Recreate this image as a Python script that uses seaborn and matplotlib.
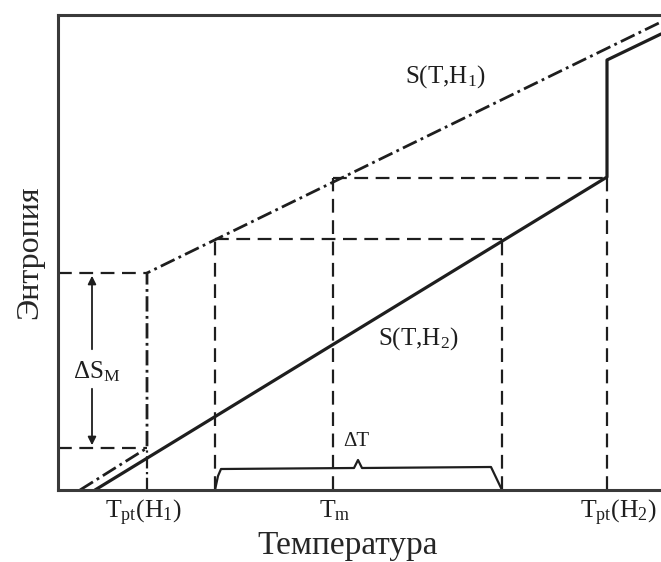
import matplotlib
matplotlib.use("Agg")
import matplotlib.pyplot as plt
import seaborn as sns
import pandas as pd

sns.set_theme(style="white")
plt.rcParams['font.family'] = ['Liberation Serif', 'DejaVu Serif']
plt.rcParams['mathtext.fontset'] = 'custom'
plt.rcParams['mathtext.rm'] = 'Liberation Serif'
plt.rcParams['mathtext.it'] = 'Liberation Serif:italic'

# ---- data (schematic units) ----
s1_T = [22, 89, 89, 603]          # S(T,H1) dash-dot curve
s1_S = [0, 42, 217, 468]
s2_T = [37, 549, 549, 603]        # S(T,H2) solid curve
s2_S = [0, 313, 430, 456]

T_pt1, T_a, T_m, T_b, T_pt2 = 89, 157, 275, 444, 549
S_low, S_high = 42, 217           # entropy levels at T_pt(H1)
S_a, S_m = 251, 312               # isentropic levels

tick_pos = [89, 275, 549]
tick_labels = ["T$_\\mathrm{pt}$(H$_1$)", "T$_\\mathrm{m}$", "T$_\\mathrm{pt}$(H$_2$)"]
tick_label_shift = [-4, 2, 11]

brace_T = [157, 160, 163, 296, 300, 304, 433, 444]
brace_S = [0, 14, 21, 22, 30, 22, 23, 0]

fig = plt.figure(figsize=(6.61, 5.62), dpi=100)
ax = fig.add_axes([58/661, 1-490/562, 1-58/661, (490-15)/562])

ink = '#1e1e1e'
dashdot = (0, (5.5, 1.6, 1.0, 1.6))
dashed = (0, (6.2, 3.4))

df1 = pd.DataFrame({"T": s1_T, "S": s1_S})
df2 = pd.DataFrame({"T": s2_T, "S": s2_S})
sns.lineplot(data=df1, x="T", y="S", sort=False, estimator=None, ax=ax,
             color=ink, lw=2.0, linestyle=dashdot)
sns.lineplot(data=df2, x="T", y="S", sort=False, estimator=None, ax=ax,
             color=ink, lw=2.3)

# vertical dash-dot below T_pt(H1)
ax.plot([T_pt1, T_pt1], [0, S_low], color=ink, lw=1.6, linestyle=dashdot)
# Delta S_M horizontal guides
ax.plot([0, T_pt1], [S_high, S_high], color=ink, lw=1.6, linestyle=dashed)
ax.plot([0, T_pt1], [S_low, S_low], color=ink, lw=1.6, linestyle=dashed)
# isentropic guides
ax.plot([T_a, T_b], [S_a, S_a], color=ink, lw=1.6, linestyle=dashed)
ax.plot([T_m, T_pt2], [S_m, S_m], color=ink, lw=1.6, linestyle=dashed)
for t, s in [(T_a, S_a), (T_m, S_m), (T_b, S_a), (T_pt2, S_m)]:
    ax.plot([t, t], [0, s], color=ink, lw=1.6, linestyle=dashed)

# Delta T brace
ax.plot(brace_T, brace_S, color=ink, lw=1.6)
ax.text(298, 48, "ΔT", ha="center", va="center", fontsize=15, color=ink)

# Delta S_M arrows
ax.annotate("", xy=(34, S_high), xytext=(34, 138),
            arrowprops=dict(arrowstyle="-|>", color=ink, lw=1.3, mutation_scale=12))
ax.annotate("", xy=(34, S_low), xytext=(34, 104),
            arrowprops=dict(arrowstyle="-|>", color=ink, lw=1.3, mutation_scale=12))
ax.text(39, 118, "ΔS$_\\mathrm{M}$", ha="center", va="center", fontsize=18, color=ink)

ax.text(387, 413, "S(T,H$_1$)", ha="center", va="center", fontsize=18, color=ink)
ax.text(360, 151, "S(T,H$_2$)", ha="center", va="center", fontsize=18, color=ink)

ax.set_xlim(0, 603)
ax.set_ylim(0, 475)
ax.set_xticks(tick_pos)
ax.set_xticklabels([])
for pos, lab, dx in zip(tick_pos, tick_labels, tick_label_shift):
    ax.annotate(lab, xy=(pos + dx, 0), xycoords=('data', 'axes fraction'),
                xytext=(0, -6), textcoords='offset points',
                ha='center', va='top', fontsize=18.5, color=ink)
ax.set_yticks([])
ax.tick_params(axis='x', length=0, pad=6)
ax.set_xlabel("Температура", fontsize=24)
ax.xaxis.set_label_coords((348 - 58) / 603, -0.085)
ax.set_ylabel("Энтропия", fontsize=23, labelpad=10)
ax.spines['right'].set_visible(False)
for sp in ['left', 'top', 'bottom']:
    ax.spines[sp].set_color('#3a3a3a')
    ax.spines[sp].set_linewidth(2.2)

fig.savefig("out.png", dpi=100)
